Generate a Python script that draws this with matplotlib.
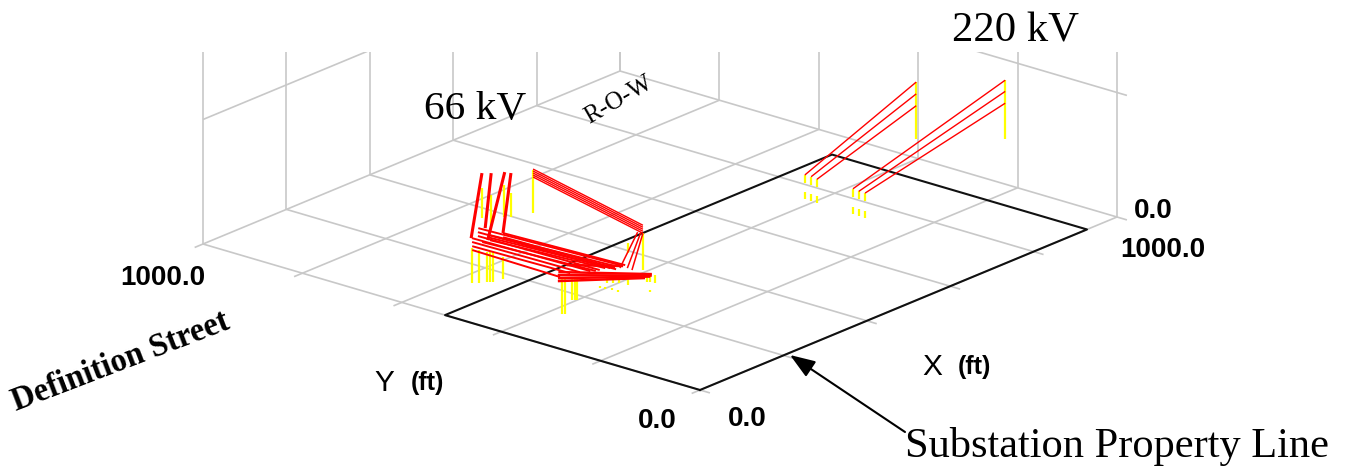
import matplotlib
matplotlib.use('Agg')
import matplotlib.pyplot as plt
import numpy as np

# Grid values (ft)
grid_x = [0, 200, 400, 600, 800, 1000]
grid_y = [0, 200, 400, 600, 800, 1000]
wall_z = 200
wall_top = 600
tick_stub = -20

# Substation property line (ft): X, Y
prop_x = [0, 928, 928, 0, 0]
prop_y = [0, 0, 513, 513, 0]

# 220 kV spans: x1, y1, z1, x2, y2, z2
spans_220 = [
    (635, 225, 94, 1000, 225, 167),
    (649, 225, 86, 1000, 225, 149),
    (664, 225, 79, 1000, 225, 130),
    (733, 404, 47, 1000, 404, 122),
    (748, 404, 40, 1000, 404, 103),
    (762, 404, 32, 1000, 404, 84),
]
# 220 kV poles: x, y, z top, z bottom
poles_220 = [
    (1000, 225, 167, 72), (1000, 404, 122, 31),
    (635, 225, 94, 81), (635, 225, 65, 53),
    (649, 225, 86, 74), (649, 225, 57, 46),
    (664, 225, 79, 66), (664, 225, 50, 39),
    (733, 404, 47, 34), (733, 404, 20, 8),
    (748, 404, 40, 27), (748, 404, 12, 1),
    (762, 404, 32, 20), (762, 404, 5, -6),
]

# 66 kV spans, every one at height z1 = z2 = 40 unless offset
span_height = 40
upper_offsets = [-6.4, -3.2, 0, 3.2, 6.4]
upper_span = (484, 742, 403, 453)
risers_66 = [
    (433, 802, 202, 630), (442, 791, 250, 642),
    (459, 778, 212, 605), (462, 768, 251, 607),
]
bundle_66 = [
    (243, 650, 259, 378), (229, 639, 239, 381), (216, 628, 222, 388),
    (203, 629, 209, 396), (190, 618, 195, 405), (176, 606, 182, 414),
    (214, 602, 234, 387), (231, 616, 251, 381), (251, 607, 264, 372),
    (237, 595, 244, 376), (163, 595, 159, 415), (222, 612, 241, 371),
    (200, 606, 215, 390),
]
band_66 = [
    (174, 431, 260, 315), (163, 423, 255, 311),
    (153, 414, 250, 310), (143, 406, 240, 312),
    (206, 441, 259, 372),
]
drop_66 = [
    (249, 370, 388, 451), (256, 361, 391, 447), (254, 350, 390, 442),
]
# 66 kV poles: x, y, z bottom (top is span_height)
poles_66 = [
    (169, 601, -16), (170, 587, -13), (171, 572, -8), (174, 568, -8),
    (177, 565, -8), (170, 539, 5), (382, 759, -8), (368, 729, -8),
    (414, 742, -11), (394, 711, 1), (494, 750, -29), (157, 410, -18),
    (160, 406, -18), (167, 398, 5), (170, 394, 5), (172, 392, 5),
    (390, 442, -19), (341, 431, 25), (226, 335, 27), (205, 359, 30),
    (211, 352, 30), (217, 345, 30), (252, 318, 29), (255, 314, 29),
    (260, 309, 27), (168, 342, 37), (170, 333, 37), (173, 322, 37),
    (172, 310, 37), (204, 272, 37),
]

GRAY = '#c8c8c8'
RED = '#ff0000'
YELLOW = '#ffff00'


def project(x, y, z=0):
    # the view is a plain oblique one, 1000 ft on each floor edge
    return (700 + 0.417 * x - 0.497 * y,
            390 - 0.173 * x - 0.146 * y - 0.6225 * z)


def seg(p1, p2, **kw):
    a = project(*p1)
    b = project(*p2)
    ax.plot([a[0], b[0]], [a[1], b[1]], solid_capstyle='butt', **kw)


fig = plt.figure(figsize=(13.46, 4.72), dpi=100)
# axes stop at the top of the walls, so the wall lines get cut there
ax = fig.add_axes([0, 0, 1, 420 / 472])
ax.set_xlim(0, 1346)
ax.set_ylim(472, 52)
ax.axis('off')

# floor and walls
for x in grid_x:
    seg((x, tick_stub), (x, 1000), color=GRAY, lw=1.2)
    seg((x, 1000), (x, 1000, wall_top), color=GRAY, lw=1.2)
for y in grid_y:
    seg((tick_stub, y), (1000, y), color=GRAY, lw=1.2)
    seg((1000, y), (1000, y, wall_top), color=GRAY, lw=1.2)
seg((0, 1000, wall_z), (1000, 1000, wall_z), color=GRAY, lw=1.2)
seg((1000, 1000, wall_z), (1000, tick_stub, wall_z), color=GRAY, lw=1.2)

# property line
px, py = project(np.array(prop_x), np.array(prop_y))
ax.plot(px, py, color='#111111', lw=1.5, zorder=3)

# poles
for x, y, z1, z2 in poles_220:
    seg((x, y, z1), (x, y, z2), color=YELLOW, lw=1.6, zorder=4)
for x, y, z2 in poles_66:
    seg((x, y, span_height), (x, y, z2), color=YELLOW, lw=1.6, zorder=4)

# conductors
for x1, y1, z1, x2, y2, z2 in spans_220:
    seg((x1, y1, z1), (x2, y2, z2), color=RED, lw=1.0, zorder=5)
for dz in upper_offsets:
    x1, y1, x2, y2 = upper_span
    seg((x1, y1, span_height + dz), (x2, y2, span_height + dz), color=RED, lw=1.0, zorder=5)
for x1, y1, x2, y2 in risers_66:
    seg((x1, y1, span_height), (x2, y2, span_height), color=RED, lw=2.2, zorder=5)
for x1, y1, x2, y2 in bundle_66:
    seg((x1, y1, span_height), (x2, y2, span_height), color=RED, lw=1.4, zorder=5)
for x1, y1, x2, y2 in band_66:
    seg((x1, y1, span_height), (x2, y2, span_height), color=RED, lw=1.8, zorder=5)
for x1, y1, x2, y2 in drop_66:
    seg((x1, y1, span_height), (x2, y2, span_height), color=RED, lw=1.1, zorder=5)

# axis tick labels
sans = 'Liberation Sans'
serif = 'Liberation Serif'
for tx, ty, s in [(163, 278, '1000.0'), (657, 421, '0.0'), (747, 419, '0.0'),
                  (1153, 211, '0.0'), (1163, 250, '1000.0')]:
    ax.text(tx, ty, s, family=sans, weight='bold', fontsize=20,
            ha='center', va='center', clip_on=False)
ax.text(384, 383, 'Y', family=sans, fontsize=21.5, ha='center', va='center')
ax.text(427, 383, '(ft)', family=sans, weight='bold', fontsize=18, ha='center', va='center')
ax.text(932, 367, 'X', family=sans, fontsize=21.5, ha='center', va='center')
ax.text(974, 367, '(ft)', family=sans, weight='bold', fontsize=18, ha='center', va='center')

# notes added on the picture
ax.text(475, 110, '66 kV', family=serif, fontsize=29.8, ha='center', va='center')
ax.text(1015, 31, '220 kV', family=serif, fontsize=30.7, ha='center', va='center', clip_on=False)
ax.text(619, 100, 'R-O-W', family=serif, fontsize=18, rotation=30,
        ha='center', va='center', rotation_mode='anchor')
ax.text(121, 362, 'Definition Street', family=serif, weight='bold', fontsize=23.5,
        rotation=21, ha='center', va='center', rotation_mode='anchor')
ax.text(1117, 447, 'Substation Property Line', family=serif, fontsize=30.5,
        ha='center', va='center')
ax.annotate('', xy=(790, 355), xytext=(905, 432),
            arrowprops=dict(arrowstyle='-|>,head_length=0.55,head_width=0.2', color='black',
                            lw=1.5, mutation_scale=28, shrinkA=0, shrinkB=0))

fig.savefig('out.png', dpi=100)
